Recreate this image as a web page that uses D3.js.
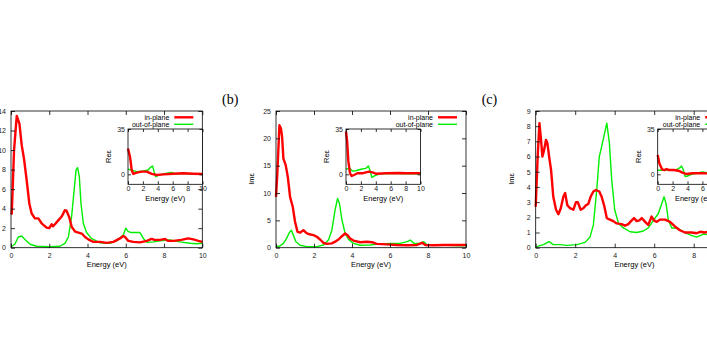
<!DOCTYPE html>
<html>
<head>
<meta charset="utf-8">
<script src="https://cdn.jsdelivr.net/npm/d3@7"></script>
<style>
  body { margin: 0; background: #fff; }
</style>
</head>
<body>
<div id="chart"></div>
<script>
// ---- data ----
var energyTicks = [0, 2, 4, 6, 8, 10];
var panelNames = ["(a)", "(b)", "(c)"];
var imMax = [14, 25, 9];
var imStep = [2, 5, 1];
var reTicks = [0, 35];
var reDomain = [-7.7, 35];
var seriesNames = ["in-plane", "out-of-plane"];

// panel (a) : [energy, value]
var imInA = [[0,3.4],[0.04,3.5],[0.16,10],[0.3,13.5],[0.44,12.7],[0.56,10.5],[0.68,9.1],[0.82,6.9],[0.96,4.5],[1.08,3.5],[1.25,3.0],[1.43,3.0],[1.6,2.5],[1.86,2.05],[2.0,2.0],[2.13,2.4],[2.2,2.2],[2.3,2.4],[2.47,2.8],[2.65,3.2],[2.82,3.85],[2.9,3.8],[3.05,3.1],[3.17,2.15],[3.35,1.65],[3.52,1.55],[3.7,1.45],[3.87,1.1],[4.04,0.85],[4.3,0.6],[4.65,0.6],[5.0,0.5],[5.35,0.6],[5.7,0.95],[5.87,1.2],[5.96,1.1],[6.13,0.7],[6.4,0.6],[6.74,0.55],[7.1,0.7],[7.35,0.9],[7.5,0.8],[7.8,0.8],[8.05,0.9],[8.2,0.7],[8.5,0.7],[8.9,0.8],[9.27,0.95],[9.53,0.85],[9.8,0.7],[10,0.6]];
var imOutA = [[0,0.1],[0.2,0.35],[0.38,1.1],[0.56,1.2],[0.73,0.85],[1.0,0.35],[1.34,0.15],[2.0,0.1],[2.56,0.15],[2.82,0.45],[3.0,1.1],[3.17,3.2],[3.3,5.9],[3.4,7.95],[3.48,8.2],[3.57,7.3],[3.66,4.5],[3.78,2.5],[3.95,1.55],[4.2,0.95],[4.65,0.5],[5.17,0.45],[5.52,0.7],[5.87,1.3],[6.0,2.0],[6.13,1.65],[6.3,1.55],[6.57,1.55],[6.74,1.55],[6.92,0.95],[7.1,0.55],[7.44,0.6],[7.8,0.7],[8.3,0.8],[8.83,0.6],[9.36,0.45],[9.7,0.4],[10,0.45]];
var reInA = [[0,20],[0.27,13.6],[0.5,3.3],[0.7,0.3],[1.17,1.3],[1.84,2.1],[2.5,2.1],[3.2,0.3],[3.86,-0.5],[4.75,0],[6.1,0.5],[7.4,0.8],[8.8,0.5],[10,0.3]];
var reOutA = [[0,3.9],[0.5,3.3],[1.17,2.1],[2.06,2.6],[2.7,3.3],[3.0,5.4],[3.3,6.4],[3.5,2.1],[3.72,-1.8],[4.0,-1.0],[4.7,0.3],[5.8,1.5],[6.5,0.3],[7.2,0.8],[8.5,0.3],[10,0.3]];

// panel (b)
var imInB = [[0,9.3],[0.07,13.6],[0.18,22.4],[0.26,21.8],[0.32,20.3],[0.39,16.3],[0.51,15.1],[0.62,13.0],[0.74,9.3],[0.88,7.5],[1.0,4.8],[1.13,2.9],[1.27,2.75],[1.44,3.2],[1.58,2.75],[1.7,2.5],[1.97,2.3],[2.15,2.0],[2.32,1.5],[2.5,0.9],[2.67,0.7],[2.94,0.8],[3.11,1.1],[3.29,1.5],[3.47,2.1],[3.64,2.6],[3.76,2.3],[3.9,1.7],[4.08,1.3],[4.43,1.0],[4.78,1.1],[5.05,1.0],[5.3,0.7],[5.84,0.6],[6.37,0.5],[6.9,0.45],[7.42,0.5],[7.69,0.9],[7.86,0.5],[8.3,0.45],[8.83,0.5],[9.36,0.5],[9.7,0.5],[10,0.5]];
var imOutB = [[0,0.2],[0.2,0.3],[0.39,0.8],[0.56,1.7],[0.7,2.75],[0.81,3.2],[0.91,2.3],[1.05,1.1],[1.27,0.45],[1.62,0.2],[2.15,0.2],[2.5,0.5],[2.76,1.4],[2.94,3.2],[3.11,6.9],[3.24,9.0],[3.34,8.1],[3.47,5.1],[3.64,2.6],[3.82,1.5],[4.08,0.8],[4.43,0.45],[4.96,0.5],[5.49,0.7],[6.02,0.8],[6.54,0.8],[6.9,1.1],[7.07,1.4],[7.25,0.8],[7.6,0.8],[7.78,1.1],[7.95,0.5],[8.48,0.5],[9.0,0.45],[9.7,0.35],[10,0.4]];
var reInB = [[0,33],[0.14,26.5],[0.32,9.8],[0.54,0.8],[0.77,-1.3],[1.08,-0.5],[1.53,0.8],[2.2,0.8],[2.66,1.5],[3.1,2.1],[3.56,1.5],[4.0,0.5],[5.36,0.8],[7.16,1.0],[8.06,0.8],[10,0.8]];
var reOutB = [[0,4.1],[0.54,4.4],[0.86,2.6],[1.3,2.8],[2.0,3.9],[2.66,4.6],[3.0,6.4],[3.2,3.3],[3.47,-2.3],[3.78,-1.3],[4.46,0.3],[6.26,0.8],[8.06,0.5],[10,0.5]];

// panel (c)
var imInC = [[0,2.7],[0.1,6.0],[0.19,8.2],[0.27,7.1],[0.34,6.0],[0.42,6.4],[0.52,7.1],[0.59,6.9],[0.69,5.9],[0.78,5.1],[0.89,3.35],[1.03,2.5],[1.15,2.2],[1.27,2.6],[1.4,3.35],[1.49,3.6],[1.6,2.8],[1.74,2.6],[1.91,2.5],[2.04,3.0],[2.13,3.0],[2.28,2.5],[2.41,2.6],[2.55,2.8],[2.67,2.9],[2.78,3.35],[2.92,3.7],[3.05,3.8],[3.22,3.7],[3.34,3.35],[3.48,2.7],[3.6,1.95],[3.76,1.85],[3.93,1.75],[4.1,1.6],[4.35,1.55],[4.52,1.45],[4.69,1.55],[4.86,1.8],[4.98,1.95],[5.11,1.75],[5.25,1.8],[5.37,1.95],[5.54,1.7],[5.7,1.5],[5.87,2.05],[5.99,1.8],[6.13,1.7],[6.3,1.85],[6.55,1.85],[6.8,1.7],[7.05,1.4],[7.3,1.15],[7.56,1.0],[7.9,1.0],[8.15,0.95],[8.32,1.05],[8.57,1.0],[8.74,1.05],[9.1,1.0],[9.5,0.95],[10,0.9]];
var imOutC = [[0,0.05],[0.39,0.2],[0.68,0.4],[0.89,0.2],[1.23,0.2],[1.57,0.15],[2.08,0.2],[2.5,0.35],[2.75,0.7],[2.92,1.5],[3.09,3.8],[3.22,6.0],[3.34,6.65],[3.48,7.5],[3.6,8.2],[3.73,6.9],[3.85,4.45],[4.0,2.5],[4.19,1.6],[4.44,1.3],[4.78,1.05],[5.11,1.0],[5.45,1.1],[5.7,1.3],[5.96,1.8],[6.21,2.25],[6.38,2.9],[6.5,3.35],[6.6,2.9],[6.72,1.8],[6.89,1.3],[7.14,1.3],[7.48,1.05],[7.81,0.85],[8.15,0.7],[8.49,0.9],[8.74,0.85],[9.2,0.9],[10,0.9]];
var reInC = [[0,14.9],[0.22,8.5],[0.58,3.9],[0.9,3.3],[1.2,4.1],[1.55,3.3],[2.2,3.3],[2.9,2.6],[3.3,1.3],[3.8,0.3],[4.7,0.8],[6,0.8],[8,0.6],[10,0.5]];
var reOutC = [[0,3.1],[1.55,3.1],[2.4,3.3],[3.0,5.1],[3.2,6.4],[3.4,4.1],[3.7,-1.8],[4.0,-1.3],[4.7,0.3],[6,1.8],[7,0.8],[8.5,0.5],[10,0.5]];

var imSeries = [[imInA, imOutA], [imInB, imOutB], [imInC, imOutC]];
var reSeries = [[reInA, reOutA], [reInB, reOutB], [reInC, reOutC]];

// ---- layout ----
var W = 707, H = 353;
var font = "'Liberation Sans', Arial, sans-serif";
var colors = ["#ff0000", "#00ee00"];
var widths = [2.4, 1.4];
var plotTop = 111, plotBottom = 247.7;
var insetTop = 129, insetBottom = 184.3, insetW = 74.5;
var layout = [
  { left: 11, unit: 19.13, insetLeft: 128 },
  { left: 276, unit: 19.0, insetLeft: 346 },
  { left: 535.7, unit: 19.75, insetLeft: 657.7 }
];

var svg = d3.select("#chart")
  .append("svg")
  .attr("width", W)
  .attr("height", H)
  .style("background-color", "#fff");

// frame with inward ticks on all four sides (gnuplot style)
function frameAxes(g, x, y, xt, yt, len, padX, padY) {
  var x0 = x.range()[0], x1 = x.range()[1];
  var y0 = y.range()[0], y1 = y.range()[1];
  g.append("g")
    .attr("transform", "translate(0," + y0 + ")")
    .call(d3.axisBottom(x).tickValues(xt).tickSizeInner(-len).tickSizeOuter(0).tickPadding(padX));
  g.append("g")
    .attr("transform", "translate(0," + y1 + ")")
    .call(d3.axisTop(x).tickValues(xt).tickSizeInner(-len).tickSizeOuter(0).tickFormat(""));
  g.append("g")
    .attr("transform", "translate(" + x0 + ",0)")
    .call(d3.axisLeft(y).tickValues(yt).tickSizeInner(-len).tickSizeOuter(0).tickPadding(padY));
  g.append("g")
    .attr("transform", "translate(" + x1 + ",0)")
    .call(d3.axisRight(y).tickValues(yt).tickSizeInner(-len).tickSizeOuter(0).tickFormat(""));
  g.selectAll(".domain").remove();
  g.selectAll(".tick line").attr("stroke", "#000").attr("stroke-width", 0.8);
  g.selectAll("g").attr("font-family", font).attr("font-size", 7);
  g.selectAll(".tick text").attr("fill", "#222");
  g.append("rect")
    .attr("x", x0).attr("y", y1)
    .attr("width", x1 - x0).attr("height", y0 - y1)
    .attr("fill", "none").attr("stroke", "#000").attr("stroke-width", 0.8);
}

function drawPanel(i) {
  var L = layout[i];
  var g = svg.append("g");
  var x = d3.scaleLinear().domain([0, 10]).range([L.left, L.left + 10 * L.unit]);
  var y = d3.scaleLinear().domain([0, imMax[i]]).range([plotBottom, plotTop]);
  var yTicks = d3.range(0, imMax[i] + 0.001, imStep[i]);
  var right = x.range()[1];

  // panel label
  g.append("text")
    .attr("x", L.left - 54).attr("y", 104)
    .attr("font-family", "'Liberation Serif', 'Times New Roman', serif")
    .attr("font-size", 14)
    .text(panelNames[i]);

  var line = d3.line().x(function (d) { return x(d[0]); }).y(function (d) { return y(d[1]); });
  // draw out-of-plane first so in-plane sits on top
  [1, 0].forEach(function (s) {
    g.append("path")
      .datum(imSeries[i][s])
      .attr("d", line)
      .attr("fill", "none")
      .attr("stroke", colors[s])
      .attr("stroke-width", widths[s])
      .attr("stroke-linejoin", "round");
  });

  frameAxes(g, x, y, energyTicks, yTicks, 4, 5, 5);

  g.append("text")
    .attr("x", (x.range()[0] + right) / 2).attr("y", 267)
    .attr("text-anchor", "middle")
    .attr("font-family", font).attr("font-size", 7.5)
    .text("Energy (eV)");
  g.append("text")
    .attr("transform", "translate(" + (L.left - 22) + "," + 179 + ") rotate(-90)")
    .attr("text-anchor", "middle")
    .attr("font-family", font).attr("font-size", 7.5)
    .text("Imε");

  // legend
  seriesNames.forEach(function (name, s) {
    var ly = 117.3 + s * 7;
    g.append("text")
      .attr("x", right - 33).attr("y", ly).attr("dy", "0.35em")
      .attr("text-anchor", "end")
      .attr("font-family", font).attr("font-size", 7)
      .text(name);
    g.append("line")
      .attr("x1", right - 28).attr("x2", right - 9)
      .attr("y1", ly).attr("y2", ly)
      .attr("stroke", colors[s]).attr("stroke-width", widths[s]);
  });

  // inset: real part
  var xi = d3.scaleLinear().domain([0, 10]).range([L.insetLeft, L.insetLeft + insetW]);
  var yi = d3.scaleLinear().domain(reDomain).range([insetBottom, insetTop]);
  var gi = g.append("g");
  gi.append("rect")
    .attr("x", L.insetLeft).attr("y", insetTop)
    .attr("width", insetW).attr("height", insetBottom - insetTop)
    .attr("fill", "#fff");
  var linei = d3.line().x(function (d) { return xi(d[0]); }).y(function (d) { return yi(d[1]); });
  [1, 0].forEach(function (s) {
    gi.append("path")
      .datum(reSeries[i][s])
      .attr("d", linei)
      .attr("fill", "none")
      .attr("stroke", colors[s])
      .attr("stroke-width", widths[s])
      .attr("stroke-linejoin", "round");
  });
  frameAxes(gi, xi, yi, energyTicks, reTicks, 3, 2, 3);
  gi.append("text")
    .attr("x", L.insetLeft + insetW / 2).attr("y", 201)
    .attr("text-anchor", "middle")
    .attr("font-family", font).attr("font-size", 7.5)
    .text("Energy (eV)");
  gi.append("text")
    .attr("transform", "translate(" + (L.insetLeft - 17) + "," + 156.5 + ") rotate(-90)")
    .attr("text-anchor", "middle")
    .attr("font-family", font).attr("font-size", 7.5)
    .text("Reε");
}

for (var p = 0; p < 3; p++) drawPanel(p);
</script>
</body>
</html>
